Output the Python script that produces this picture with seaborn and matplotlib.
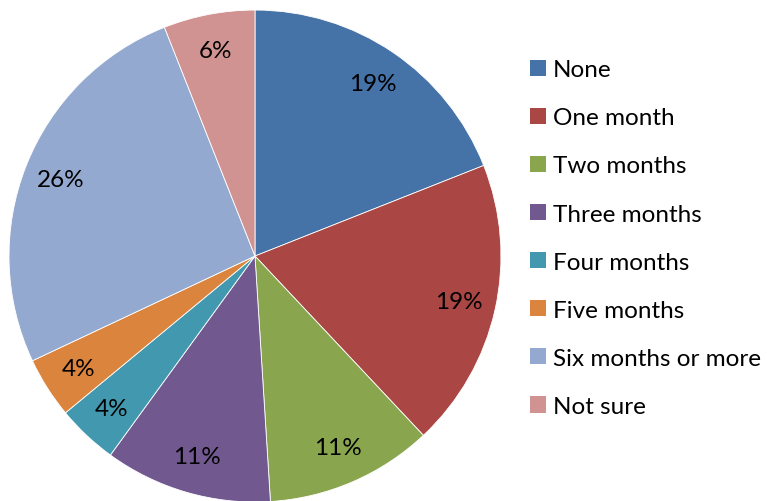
import matplotlib
matplotlib.use("Agg")
import matplotlib.pyplot as plt
from matplotlib.patches import Patch
import seaborn as sns

# --- data ---
categories = ['None', 'One month', 'Two months', 'Three months',
              'Four months', 'Five months', 'Six months or more', 'Not sure']
shares = [19, 19, 11, 11, 4, 4, 26, 6]
colors = ['#4572A7', '#AA4643', '#89A54E', '#71588F',
          '#4198AF', '#DB843D', '#93A9CF', '#D19392']

sns.set_theme(style='white')
plt.rcParams['font.family'] = ['Lato', 'DejaVu Sans']

fig = plt.figure(figsize=(7.67, 5.02), dpi=100)
ax = fig.add_axes([0.0117, -0.002, 0.6415, 0.980])

wedges, texts, autotexts = ax.pie(
    shares, colors=colors, startangle=90, counterclock=False,
    autopct='%1.0f%%', pctdistance=0.85,
    wedgeprops=dict(edgecolor='white', linewidth=0.6),
    textprops=dict(fontsize=17.5, color='black'))
ax.set_xlim(-1, 1)
ax.set_ylim(-1, 1)
ax.set_aspect('equal')

handles = [Patch(facecolor=c, edgecolor='none') for c in colors]
fig.legend(handles, categories, loc='upper left', bbox_to_anchor=(0.691, 0.880),
           frameon=False, fontsize=17.5, labelcolor='black',
           handlelength=0.65, handleheight=0.65,
           handletextpad=0.3, labelspacing=1.115, borderpad=0, borderaxespad=0)

fig.savefig('out.png', dpi=100)
